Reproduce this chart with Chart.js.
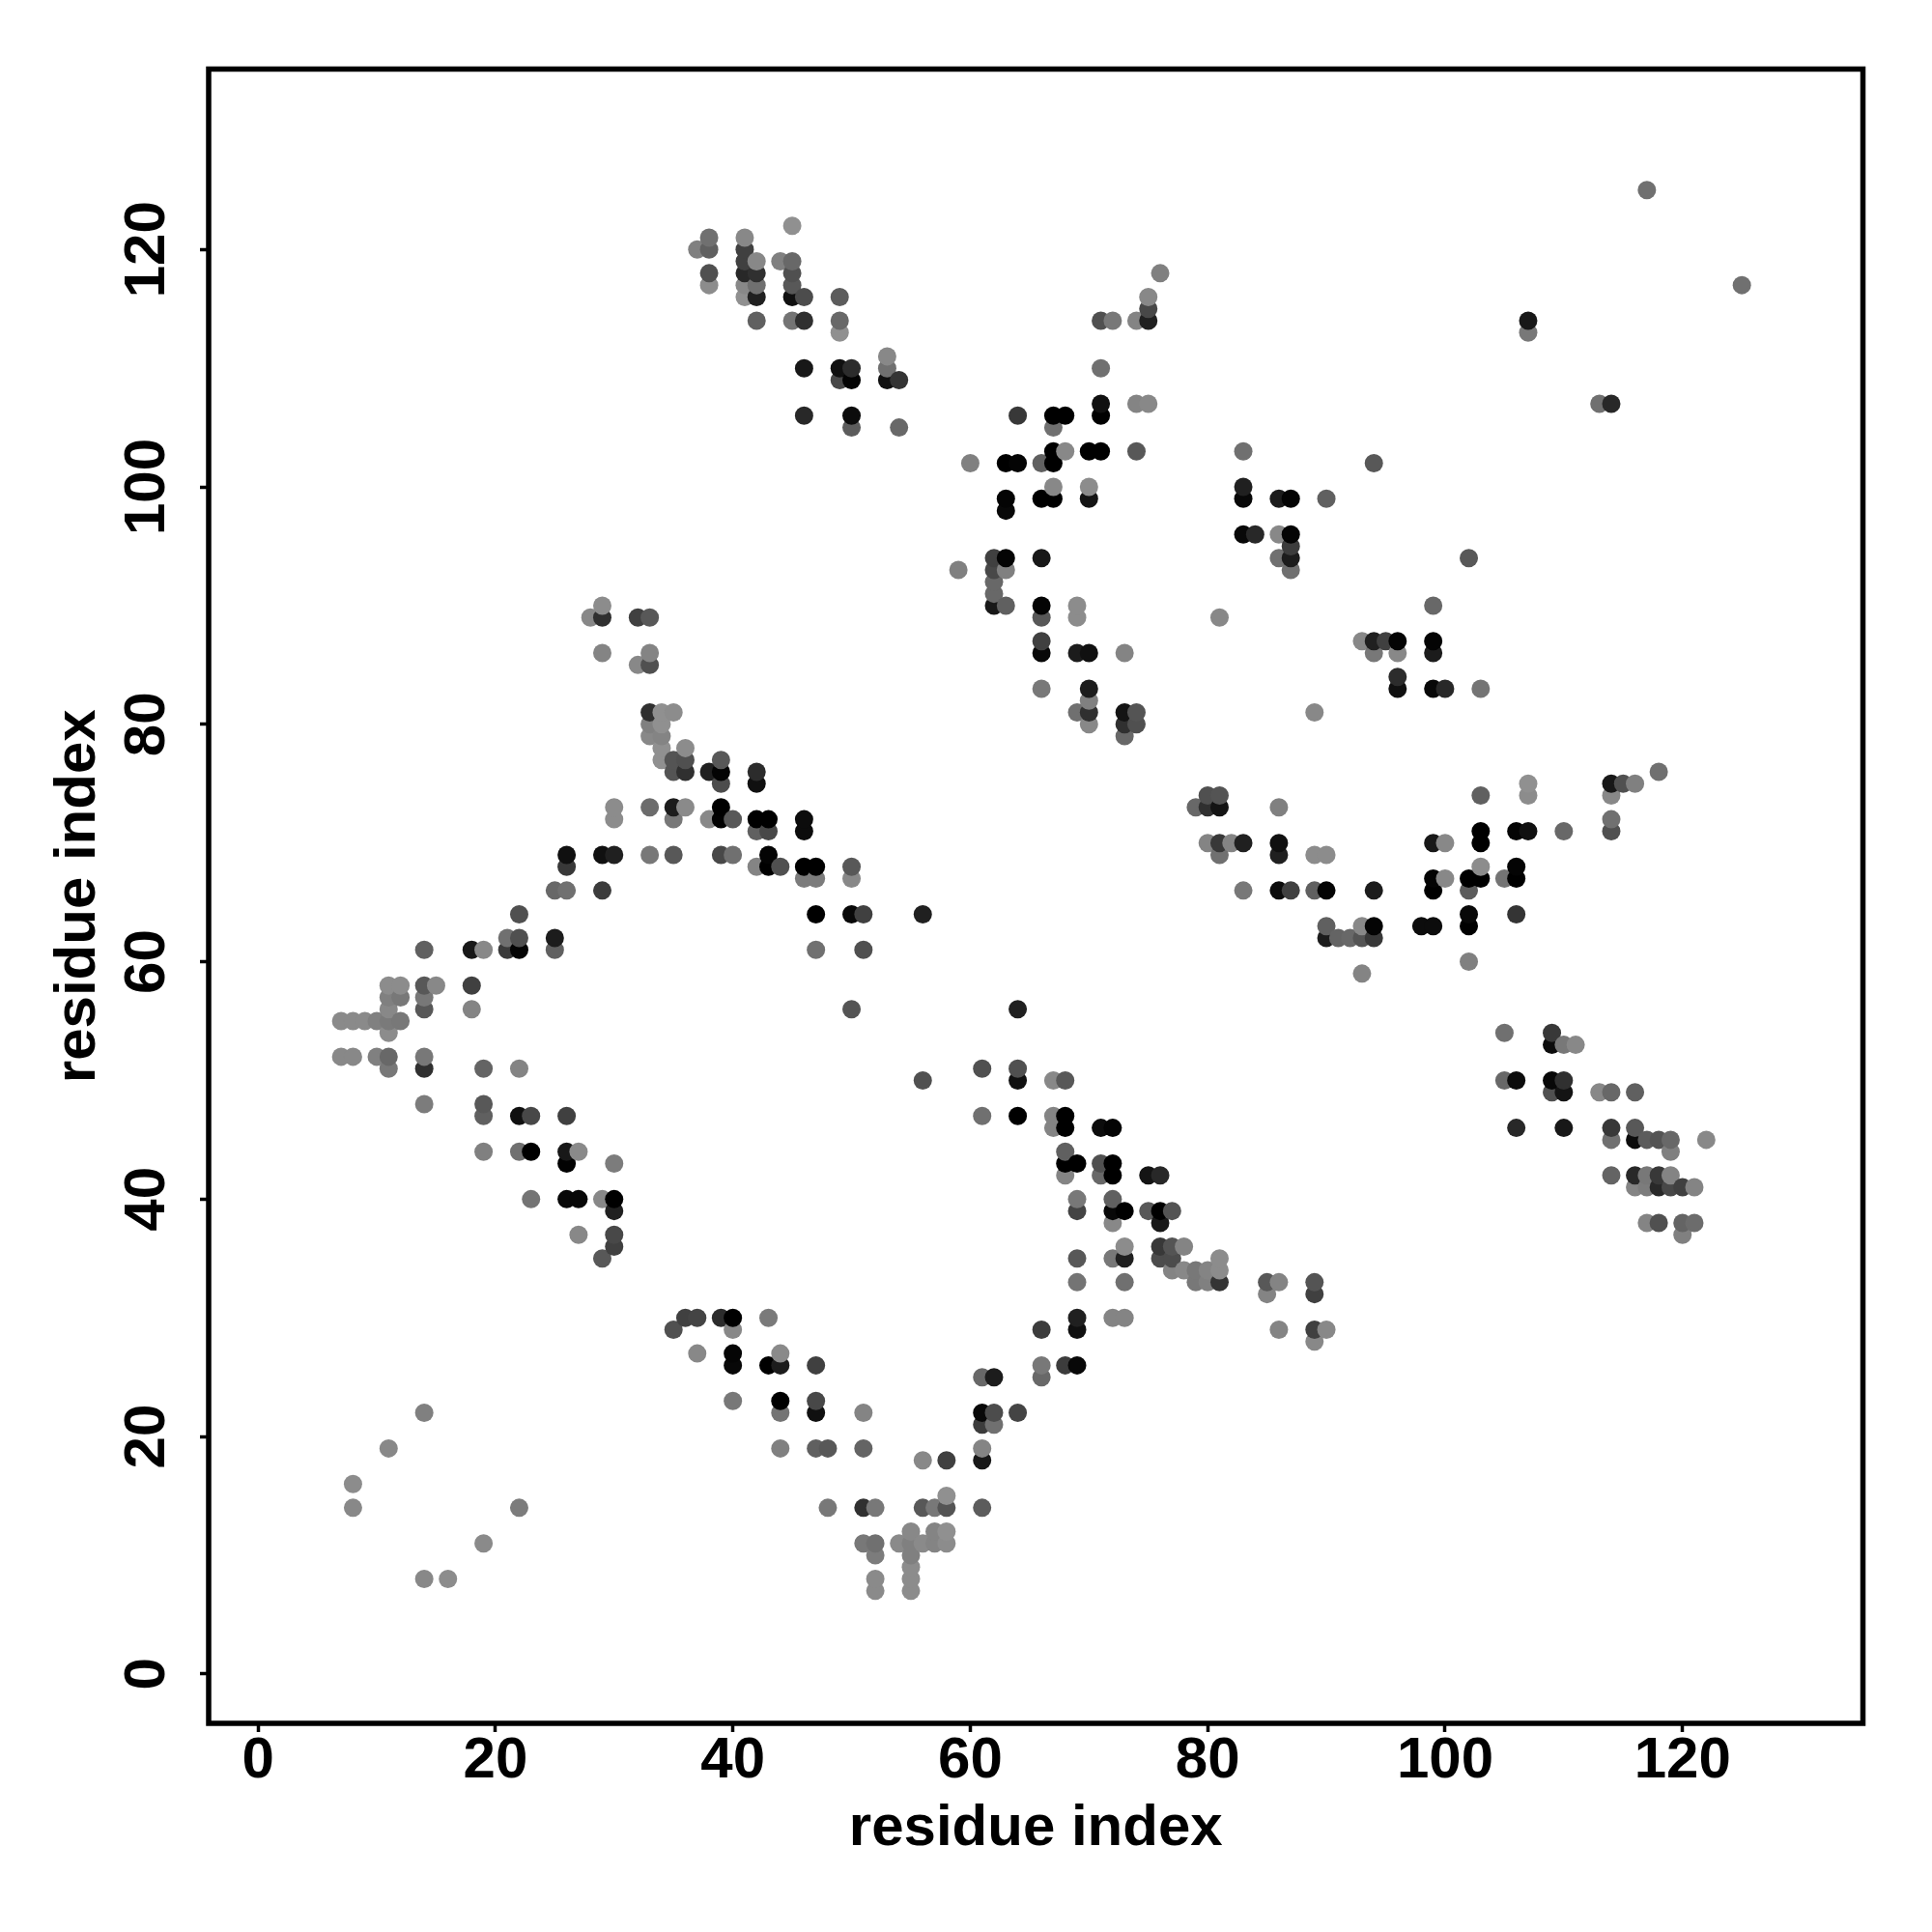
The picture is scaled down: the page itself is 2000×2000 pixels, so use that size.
<!DOCTYPE html>
<html>
<head>
<meta charset="utf-8">
<title>residue contact map</title>
<script src="https://cdn.jsdelivr.net/npm/chart.js@4/dist/chart.umd.min.js"></script>
<style>
  html, body { margin: 0; padding: 0; background: #fff; }
  canvas { display: block; }
</style>
</head>
<body>
<canvas id="contactChart" width="2000" height="2000"></canvas>
<script>
// Tick labels, same for both axes
const axisTicks = [0, 20, 40, 60, 80, 100, 120];

// Contact map, one row per residue on the y axis
const rowY = [125, 122, 121, 120, 119, 118, 117, 116, 115, 114, 113, 111, 110, 109, 107, 106, 105, 103, 102, 100,
  99, 98, 96, 95, 94, 93, 92, 91, 90, 89, 87, 86, 85, 84, 83, 82, 81, 80, 79, 78,
  77, 76, 75, 74, 73, 72, 71, 70, 69, 68, 67, 66, 64, 63, 62, 61, 60, 59, 58, 57,
  56, 55, 54, 53, 52, 51, 50, 49, 48, 47, 46, 45, 44, 43, 42, 41, 40, 39, 38, 37,
  36, 35, 34, 33, 32, 30, 29, 28, 27, 26, 25, 23, 22, 21, 19, 18, 16, 15, 14, 12,
  11, 10, 9, 8, 7];

const rowX = [
  [117], [45], [38, 41], [37, 38, 41], [41, 42, 44, 45],
  [38, 41, 42, 45, 76], [38, 41, 42, 45, 125], [41, 42, 45, 46, 49, 75], [75],
  [42, 45, 46, 49, 71, 72, 74, 75, 107], [49, 107], [53], [46, 49, 50, 53, 71], [49, 50, 53, 54],
  [71, 74, 75, 113, 114], [46, 50, 64, 67, 68, 71], [50, 54, 67], [67, 68, 70, 71, 74, 83],
  [60, 63, 64, 66, 67, 94], [67, 70, 83],
  [63, 66, 67, 70, 83, 86, 87, 90], [63], [83, 84, 86, 87], [87], [62, 63, 66, 86, 87, 102],
  [59, 62, 63, 87], [62], [62], [29, 62, 63, 66, 69, 99], [28, 29, 32, 33, 66, 69, 81],
  [66, 93, 94, 95, 96, 99], [29, 33, 66, 69, 70, 73, 94, 96, 99], [32, 33], [96],
  [66, 70, 96, 99, 100, 103], [70], [33, 34, 35, 69, 70, 73, 74, 89], [33, 34, 70, 73, 74],
  [33, 34, 73], [34, 36],
  [34, 35, 36, 39], [35, 36, 38, 39, 42, 118], [39, 42, 107, 114, 115, 116], [80, 81, 103, 107, 114],
  [30, 33, 35, 36, 39, 79, 80, 81, 86], [30, 35, 38, 39, 40, 42, 43, 46, 114],
  [42, 43, 46, 103, 106, 107, 110, 114], [80, 81, 82, 83, 86, 99, 100, 103],
  [26, 29, 30, 33, 35, 39, 40, 43, 81, 86, 89, 90], [26, 42, 43, 44, 46, 47, 50, 103, 106],
  [46, 47, 50, 99, 100, 102, 103, 105, 106], [25, 26, 29, 83, 86, 87, 89, 90, 94, 99, 102],
  [22, 47, 50, 51, 56, 102, 106], [90, 93, 94, 98, 99, 102], [21, 22, 25, 90, 91, 92, 93, 94],
  [14, 18, 19, 21, 22, 25, 47, 51], [102], [93], [11, 12, 14, 15, 18], [11, 12, 14],
  [11, 14, 18, 50, 64], [7, 8, 9, 10, 11, 12], [11, 105, 109], [109, 110, 111], [7, 8, 10, 11, 14],
  [11, 14, 19, 22, 61, 64], [56, 64, 67, 68, 105, 106, 109, 110], [109, 110, 113, 114, 116], [14, 19],
  [19, 22, 23, 26, 61, 64, 67, 68], [67, 68, 71, 72, 106, 110, 114, 116], [114, 116, 117, 118, 119, 122],
  [19, 22, 23, 26, 27, 68, 119], [26, 30, 68, 69, 71, 72], [68, 71, 72, 75, 76, 114, 116, 117, 118, 119],
  [116, 117, 118, 119, 120, 121], [23, 26, 27, 29, 30, 69, 72], [30, 69, 72, 73, 75, 76, 77],
  [72, 76, 117, 118, 120, 121], [27, 30, 120],
  [30, 73, 76, 77, 78], [29, 69, 72, 73, 76, 77, 81], [77, 78, 79, 80, 81], [69, 73, 79, 80, 81, 85, 86, 89],
  [85, 89], [36, 37, 39, 40, 43, 69, 72, 73], [35, 40, 66, 69, 86, 89, 90], [89], [37, 40, 44],
  [40, 43, 44, 47, 66, 68, 69], [61, 62, 66], [40, 44, 47], [14, 44, 47, 51, 61, 62, 64], [61, 62],
  [11, 44, 47, 48, 51, 61], [56, 58, 61], [8], [58], [8, 22, 48, 51, 52, 56, 57, 58, 61], [55, 57, 58],
  [19, 51, 52, 54, 55, 56, 57, 58], [52, 55], [55], [14, 16, 52, 55], [52, 55]
];

// Grey level of each contact (0 black, 0x90 lightest), same shape as rowX
const rowGrey = [
  [0x70], [0x90], [0x70, 0x88], [0x80, 0x60, 0x40], [0x40, 0x88, 0x80, 0x68],
  [0x50, 0x28, 0x30, 0x50, 0x80], [0x8c, 0x88, 0x70, 0x58, 0x70], [0x90, 0x20, 0x10, 0x4c, 0x5c, 0x88], [0x48],
  [0x60, 0x74, 0x30, 0x68, 0x50, 0x78, 0x84, 0x20, 0x18], [0x90, 0x78], [0x88], [0x18, 0x10, 0x2c, 0x70, 0x70], [0x48, 0x04, 0x10, 0x34],
  [0x10, 0x84, 0x88, 0x70, 0x28], [0x28, 0x0c, 0x38, 0x00, 0x00, 0x00], [0x5c, 0x68, 0x70], [0x00, 0x88, 0x00, 0x00, 0x58, 0x70],
  [0x80, 0x00, 0x04, 0x60, 0x00, 0x58], [0x88, 0x8c, 0x20],
  [0x04, 0x00, 0x00, 0x14, 0x08, 0x1c, 0x04, 0x60], [0x08], [0x08, 0x28, 0x88, 0x04], [0x3c], [0x40, 0x04, 0x18, 0x70, 0x1c, 0x58],
  [0x80, 0x48, 0x80, 0x70], [0x68], [0x68], [0x8c, 0x18, 0x60, 0x04, 0x8c, 0x68], [0x88, 0x30, 0x40, 0x58, 0x58, 0x8c, 0x88],
  [0x40, 0x88, 0x20, 0x40, 0x04, 0x04], [0x84, 0x84, 0x08, 0x1c, 0x10, 0x84, 0x78, 0x88, 0x1c], [0x88, 0x50], [0x2c],
  [0x78, 0x1c, 0x10, 0x08, 0x28, 0x74], [0x80], [0x30, 0x90, 0x8c, 0x70, 0x30, 0x14, 0x54, 0x88], [0x80, 0x90, 0x88, 0x30, 0x50],
  [0x88, 0x84, 0x68], [0x90, 0x8c],
  [0x90, 0x54, 0x50, 0x58], [0x54, 0x30, 0x20, 0x04, 0x2c, 0x70], [0x4c, 0x10, 0x90, 0x18, 0x50, 0x80], [0x50, 0x54, 0x60, 0x8c, 0x88],
  [0x8c, 0x6c, 0x1c, 0x8a, 0x00, 0x68, 0x30, 0x14, 0x80], [0x8c, 0x78, 0x88, 0x02, 0x58, 0x00, 0x00, 0x0c, 0x70],
  [0x60, 0x48, 0x0c, 0x00, 0x04, 0x10, 0x68, 0x50], [0x84, 0x38, 0x84, 0x20, 0x10, 0x18, 0x88, 0x00],
  [0x10, 0x10, 0x20, 0x78, 0x58, 0x48, 0x70, 0x04, 0x70, 0x20, 0x8c, 0x8c], [0x38, 0x84, 0x00, 0x50, 0x00, 0x00, 0x58, 0x8c, 0x04],
  [0x7c, 0x7c, 0x88, 0x04, 0x88, 0x00, 0x00, 0x74, 0x00], [0x68, 0x70, 0x3c, 0x78, 0x0c, 0x40, 0x60, 0x04, 0x1c, 0x00, 0x5c],
  [0x50, 0x00, 0x08, 0x40, 0x20, 0x08, 0x34], [0x60, 0x88, 0x04, 0x0c, 0x0c, 0x00], [0x70, 0x50, 0x1c, 0x1c, 0x64, 0x68, 0x54, 0x38],
  [0x60, 0x18, 0x88, 0x3a, 0x04, 0x60, 0x70, 0x50], [0x80], [0x84], [0x8c, 0x8c, 0x58, 0x88, 0x40], [0x80, 0x78, 0x78],
  [0x88, 0x58, 0x84, 0x54, 0x20], [0x8a, 0x8a, 0x8a, 0x80, 0x7a, 0x78], [0x8c, 0x70, 0x38], [0x0c, 0x78, 0x88], [0x88, 0x88, 0x80, 0x68, 0x78],
  [0x78, 0x30, 0x64, 0x84, 0x50, 0x50], [0x50, 0x10, 0x88, 0x58, 0x68, 0x0c, 0x08, 0x30], [0x50, 0x14, 0x88, 0x68, 0x60], [0x7c, 0x58],
  [0x60, 0x10, 0x48, 0x40, 0x70, 0x00, 0x84, 0x00], [0x84, 0x00, 0x0c, 0x04, 0x28, 0x18, 0x38, 0x58], [0x70, 0x0c, 0x5c, 0x54, 0x68, 0x88],
  [0x80, 0x70, 0x00, 0x18, 0x8a, 0x60, 0x80], [0x02, 0x7c, 0x00, 0x00, 0x50, 0x00], [0x84, 0x68, 0x00, 0x14, 0x28, 0x64, 0x28, 0x78, 0x38, 0x84],
  [0x84, 0x7c, 0x28, 0x48, 0x40, 0x84], [0x74, 0x08, 0x08, 0x88, 0x00, 0x78, 0x60], [0x20, 0x44, 0x08, 0x00, 0x58, 0x00, 0x54],
  [0x88, 0x18, 0x84, 0x50, 0x64, 0x6c], [0x88, 0x48, 0x80],
  [0x40, 0x8c, 0x38, 0x54, 0x84], [0x58, 0x58, 0x78, 0x20, 0x4c, 0x4c, 0x8c], [0x84, 0x88, 0x78, 0x84, 0x8c], [0x74, 0x70, 0x78, 0x80, 0x34, 0x58, 0x84, 0x54],
  [0x84, 0x40], [0x40, 0x44, 0x2c, 0x00, 0x7a, 0x20, 0x84, 0x84], [0x50, 0x88, 0x3c, 0x10, 0x84, 0x40, 0x88], [0x88], [0x88, 0x05, 0x8a],
  [0x08, 0x00, 0x1c, 0x40, 0x78, 0x3c, 0x08], [0x68, 0x1c, 0x68], [0x78, 0x00, 0x48], [0x80, 0x74, 0x10, 0x84, 0x08, 0x4c, 0x44], [0x3c, 0x70],
  [0x88, 0x80, 0x60, 0x58, 0x64, 0x84], [0x88, 0x40, 0x18], [0x8c], [0x90], [0x88, 0x7c, 0x78, 0x30, 0x78, 0x58, 0x78, 0x54, 0x5c], [0x88, 0x84, 0x90],
  [0x8a, 0x78, 0x70, 0x8a, 0x80, 0x8a, 0x84, 0x8c], [0x7c, 0x80], [0x8c], [0x88, 0x8c, 0x8a, 0x8c], [0x8a, 0x8c]
];

const fontFamily = '"Liberation Sans", Arial, Helvetica, sans-serif';

// Flatten the rows; higher x and y get painted last so overlaps match the picture
const points = [];
rowY.forEach((y, r) => {
  rowX[r].forEach((x, c) => points.push({ x: x, y: y, grey: rowGrey[r][c] }));
});
points.sort((a, b) => a.x - b.x || a.y - b.y);

// Box around the plot, all four sides
const frameBox = {
  id: 'frameBox',
  afterDraw(chart) {
    const { ctx, chartArea: a } = chart;
    ctx.save();
    ctx.strokeStyle = '#000';
    ctx.lineWidth = 5.5;
    ctx.strokeRect(a.left, a.top, a.right - a.left, a.bottom - a.top);
    ctx.restore();
  }
};

function axisOptions(side) {
  const horizontal = side === 'x';
  return {
    type: 'linear',
    position: horizontal ? 'bottom' : 'left',
    min: -4.16,
    max: 135.2,
    afterBuildTicks(scale) {
      scale.ticks = axisTicks.map(v => ({ value: v }));
    },
    afterFit(scale) {
      if (horizontal) scale.height = 216;
      else scale.width = 216;
    },
    grid: { drawOnChartArea: false, drawTicks: true, tickLength: 9, tickWidth: 3.5, tickColor: '#000' },
    border: { display: false },
    ticks: {
      autoSkip: false,
      color: '#000',
      padding: horizontal ? -6 : 3,
      crossAlign: horizontal ? 'near' : 'center',
      minRotation: horizontal ? 0 : 90,
      maxRotation: horizontal ? 0 : 90,
      font: { family: fontFamily, weight: 'bold', size: 60 }
    },
    title: {
      display: true,
      text: 'residue index',
      color: '#000',
      font: { family: fontFamily, weight: 'bold', size: 60 },
      padding: horizontal ? { top: 0, bottom: 71 } : { top: 45, bottom: 0 }
    }
  };
}

new Chart(document.getElementById('contactChart').getContext('2d'), {
  type: 'scatter',
  data: {
    datasets: [{
      data: points,
      backgroundColor: points.map(p => `rgb(${p.grey},${p.grey},${p.grey})`),
      borderWidth: 0,
      pointRadius: 9.5,
      pointHoverRadius: 9.5
    }]
  },
  options: {
    responsive: false,
    animation: false,
    layout: { padding: { top: 71.5, right: 71.5, left: 0, bottom: 0 } },
    plugins: { legend: { display: false }, tooltip: { enabled: false } },
    scales: { x: axisOptions('x'), y: axisOptions('y') }
  },
  plugins: [frameBox]
});
</script>
</body>
</html>
